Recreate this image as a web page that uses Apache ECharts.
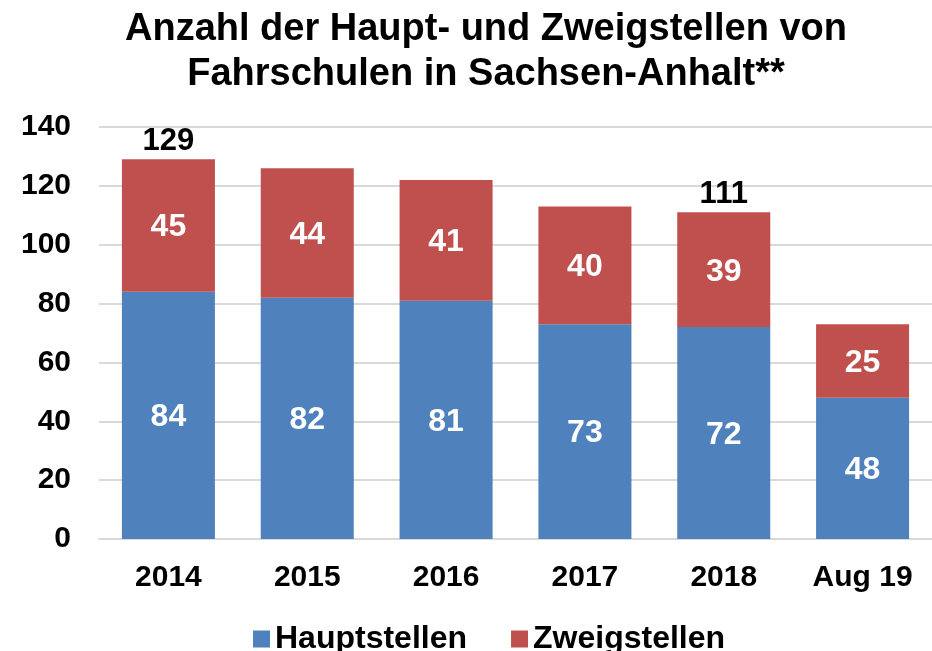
<!DOCTYPE html>
<html>
<head>
<meta charset="utf-8">
<script src="https://cdn.jsdelivr.net/npm/echarts@6/dist/echarts.min.js"></script>
<style>
  html, body { margin: 0; padding: 0; background: #fff; }
  #chart { width: 932px; height: 651px; }
</style>
</head>
<body>
<div id="chart"></div>
<script>
const categories = ["2014", "2015", "2016", "2017", "2018", "Aug 19"]
const hauptstellen = [84, 82, 81, 73, 72, 48]
const zweigstellen = [45, 44, 41, 40, 39, 25]
// totals written above the bars (only shown for two of them)
const totalLabels = [129, null, null, null, 111, null]
const yTicks = [0, 20, 40, 60, 80, 100, 120, 140]

const font = "'Liberation Sans', Arial, sans-serif"
const chart = echarts.init(document.getElementById("chart"))

chart.setOption({
  animation: false,
  textStyle: { fontFamily: font },
  title: {
    text: "Anzahl der Haupt- und Zweigstellen von\nFahrschulen in Sachsen-Anhalt**",
    left: 481,
    textAlign: "center",
    top: 2,
    textStyle: {
      fontFamily: font,
      fontSize: 38,
      fontWeight: "bold",
      color: "#000",
      lineHeight: 45,
    },
  },
  legend: {
    data: ["Hauptstellen", "Zweigstellen"],
    top: 618,
    left: 248,
    itemWidth: 17,
    itemHeight: 17,
    itemGap: 44,
    icon: "rect",
    textStyle: {
      fontFamily: font,
      fontSize: 32,
      fontWeight: "bold",
      color: "#000",
    },
  },
  grid: {
    left: 99,
    right: 0,
    top: 127,
    bottom: 112,
  },
  xAxis: {
    type: "category",
    data: categories,
    axisLine: { lineStyle: { color: "#d9d9d9", width: 2 } },
    axisTick: { show: false },
    axisLabel: {
      color: "#000",
      fontSize: 30,
      fontWeight: "bold",
      margin: 24,
    },
  },
  yAxis: {
    type: "value",
    min: yTicks[0],
    max: yTicks[yTicks.length - 1],
    interval: 20,
    axisLine: { show: false },
    axisTick: { show: false },
    splitLine: { lineStyle: { color: "#d9d9d9", width: 2 } },
    axisLabel: {
      color: "#000",
      fontSize: 30,
      fontWeight: "bold",
      margin: 28,
    },
  },
  series: [
    {
      name: "Hauptstellen",
      type: "bar",
      stack: "total",
      barWidth: "67%",
      data: hauptstellen,
      itemStyle: { color: "#4f81bd" },
      label: {
        show: true,
        position: "inside",
        offset: [0, 2],
        color: "#fff",
        fontSize: 32,
        fontWeight: "bold",
      },
    },
    {
      name: "Zweigstellen",
      type: "bar",
      stack: "total",
      data: zweigstellen,
      itemStyle: { color: "#c0504d" },
      label: {
        show: true,
        position: "inside",
        offset: [0, 2],
        color: "#fff",
        fontSize: 32,
        fontWeight: "bold",
      },
    },
    {
      name: "Summe",
      type: "bar",
      stack: "total",
      data: totalLabels.map(() => 0),
      itemStyle: { color: "transparent" },
      label: {
        show: true,
        position: "top",
        distance: 2,
        color: "#000",
        fontSize: 31,
        fontWeight: "bold",
        formatter: (p) => (totalLabels[p.dataIndex] == null ? "" : String(totalLabels[p.dataIndex])),
      },
    },
  ],
})
</script>
</body>
</html>
